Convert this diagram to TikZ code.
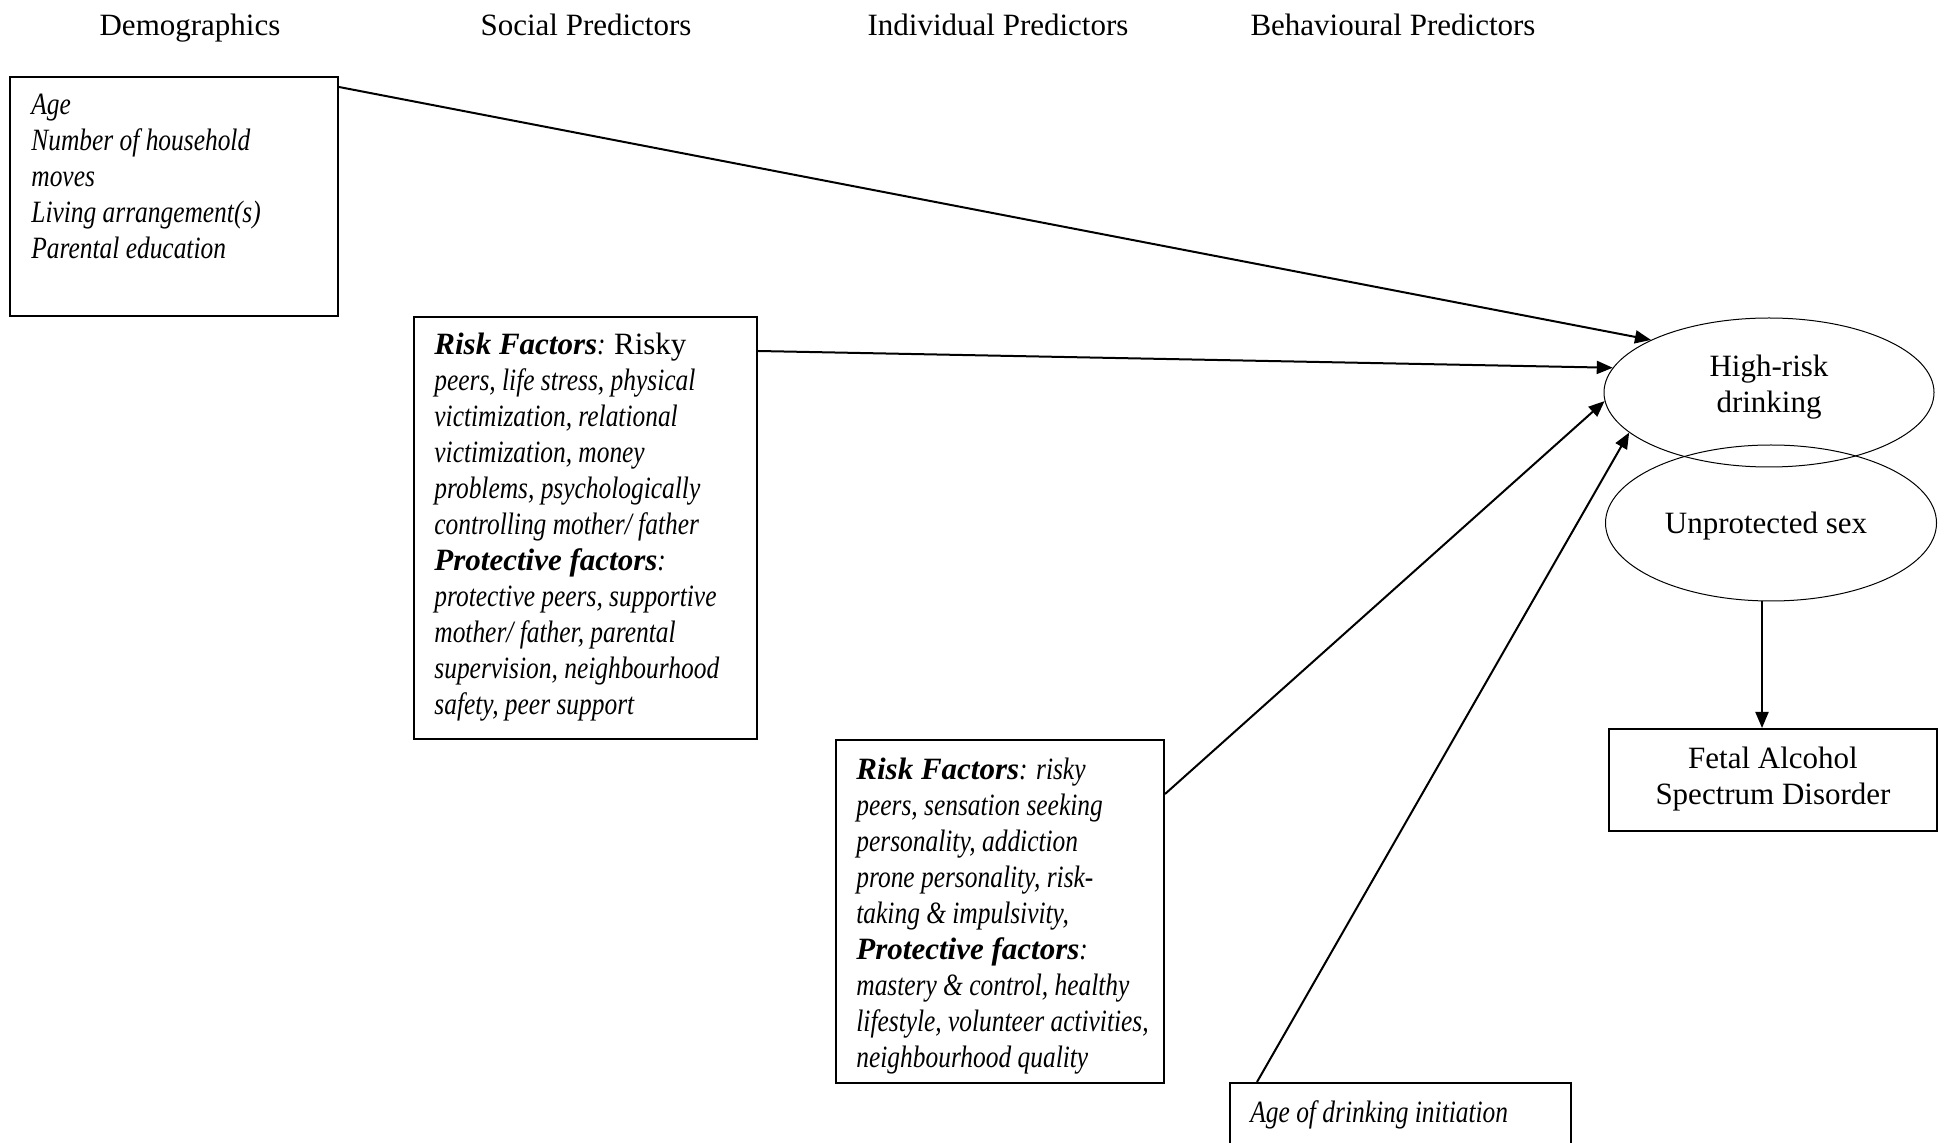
\documentclass[tikz,border=0pt]{standalone}
\usepackage{fontspec}
\setmainfont{Liberation Serif}
\newfontfamily\condfont{Liberation Serif}[FakeStretch=0.82]
\usetikzlibrary{arrows.meta,shapes.geometric,fit}
\newcommand{\mybi}[1]{{\rmfamily\bfseries\itshape #1}}
\begin{document}
\begin{tikzpicture}[x=0.5pt,y=-0.5pt,
  every node/.style={font=\fontsize{15.5}{18}\selectfont},
  box/.style={draw, line width=1pt, inner sep=0pt, rectangle},
  oval/.style={draw, ellipse, line width=0.5pt, inner sep=0pt, align=center},
  txt/.style={anchor=north west, inner sep=0pt, align=left, font=\fontsize{15.5}{18}\selectfont\condfont\itshape},
  head/.style={anchor=base, inner sep=0pt},
  arr/.style={line width=1pt, -{Triangle[length=8pt,width=6.5pt]}}]
\useasboundingbox (0,0) rectangle (1948,1143);
\clip (0,0) rectangle (1948,1143);

% column headings
\node[head] (h1) at (190,36) {Demographics};
\node[head] (h2) at (586,36) {Social Predictors};
\node[head] (h3) at (998,36) {Individual Predictors};
\node[head] (h4) at (1393,36) {Behavioural Predictors};

% boxes
\node[box, fit={(10,77) (338,316)}] (demo) {};
\node[box, fit={(414,317) (757,739)}] (soc) {};
\node[box, fit={(836,740) (1164,1083)}] (ind) {};
\node[box, fit={(1230,1083) (1571,1190)}] (age) {};
\node[box, fit={(1609,729) (1937,831)}] (fasd) {};
\node[inner sep=0pt, align=center] (fasdtxt) at (1773,779) {Fetal Alcohol\\Spectrum Disorder};

% box texts
\node[txt] (demotxt) at (31,89) {\strut Age\\Number of household\\moves\\Living arrangement(s)\\Parental education};
\node[txt] (soctxt) at (434,329) {\strut\mybi{Risk Factors}: {\rmfamily\upshape Risky}\\peers, life stress, physical\\victimization, relational\\victimization, money\\problems, psychologically\\controlling mother/ father\\\mybi{Protective factors}:\\protective peers, supportive\\mother/ father, parental\\supervision, neighbourhood\\safety, peer support};
\node[txt] (indtxt) at (856,754) {\strut\mybi{Risk Factors}: risky\\peers, sensation seeking\\personality, addiction\\prone personality, risk-\\taking \& impulsivity,\\\mybi{Protective factors}:\\mastery \& control, healthy\\lifestyle, volunteer activities,\\neighbourhood quality};
\node[txt] (agetxt) at (1250,1097) {\strut Age of drinking initiation};

% outcome ellipses
\node[oval, minimum width=165pt, minimum height=74.5pt] (hrd) at (1769,392.5) {};
\node[inner sep=0pt, align=center] (hrdtxt) at (1769,387) {High-risk\\drinking};
\node[oval, minimum width=165.5pt, minimum height=78pt] (us) at (1771,523) {};
\node[inner sep=0pt] (ustxt) at (1766,526) {Unprotected sex};

% connectors
\draw[arr] ([yshift=-5.5pt]demo.north east) -- (hrd.156);
\draw[arr] ([yshift=-17.5pt]soc.north east) -- (hrd.171);
\draw[arr] ([yshift=-27.5pt]ind.north east) -- (hrd.183);
\draw[arr] ([xshift=14pt]age.north west) -- (hrd.196);
\draw[arr] ([xshift=-4.5pt]us.south) -- ([xshift=-4.5pt]us.south |- fasd.north);
\end{tikzpicture}
\end{document}
